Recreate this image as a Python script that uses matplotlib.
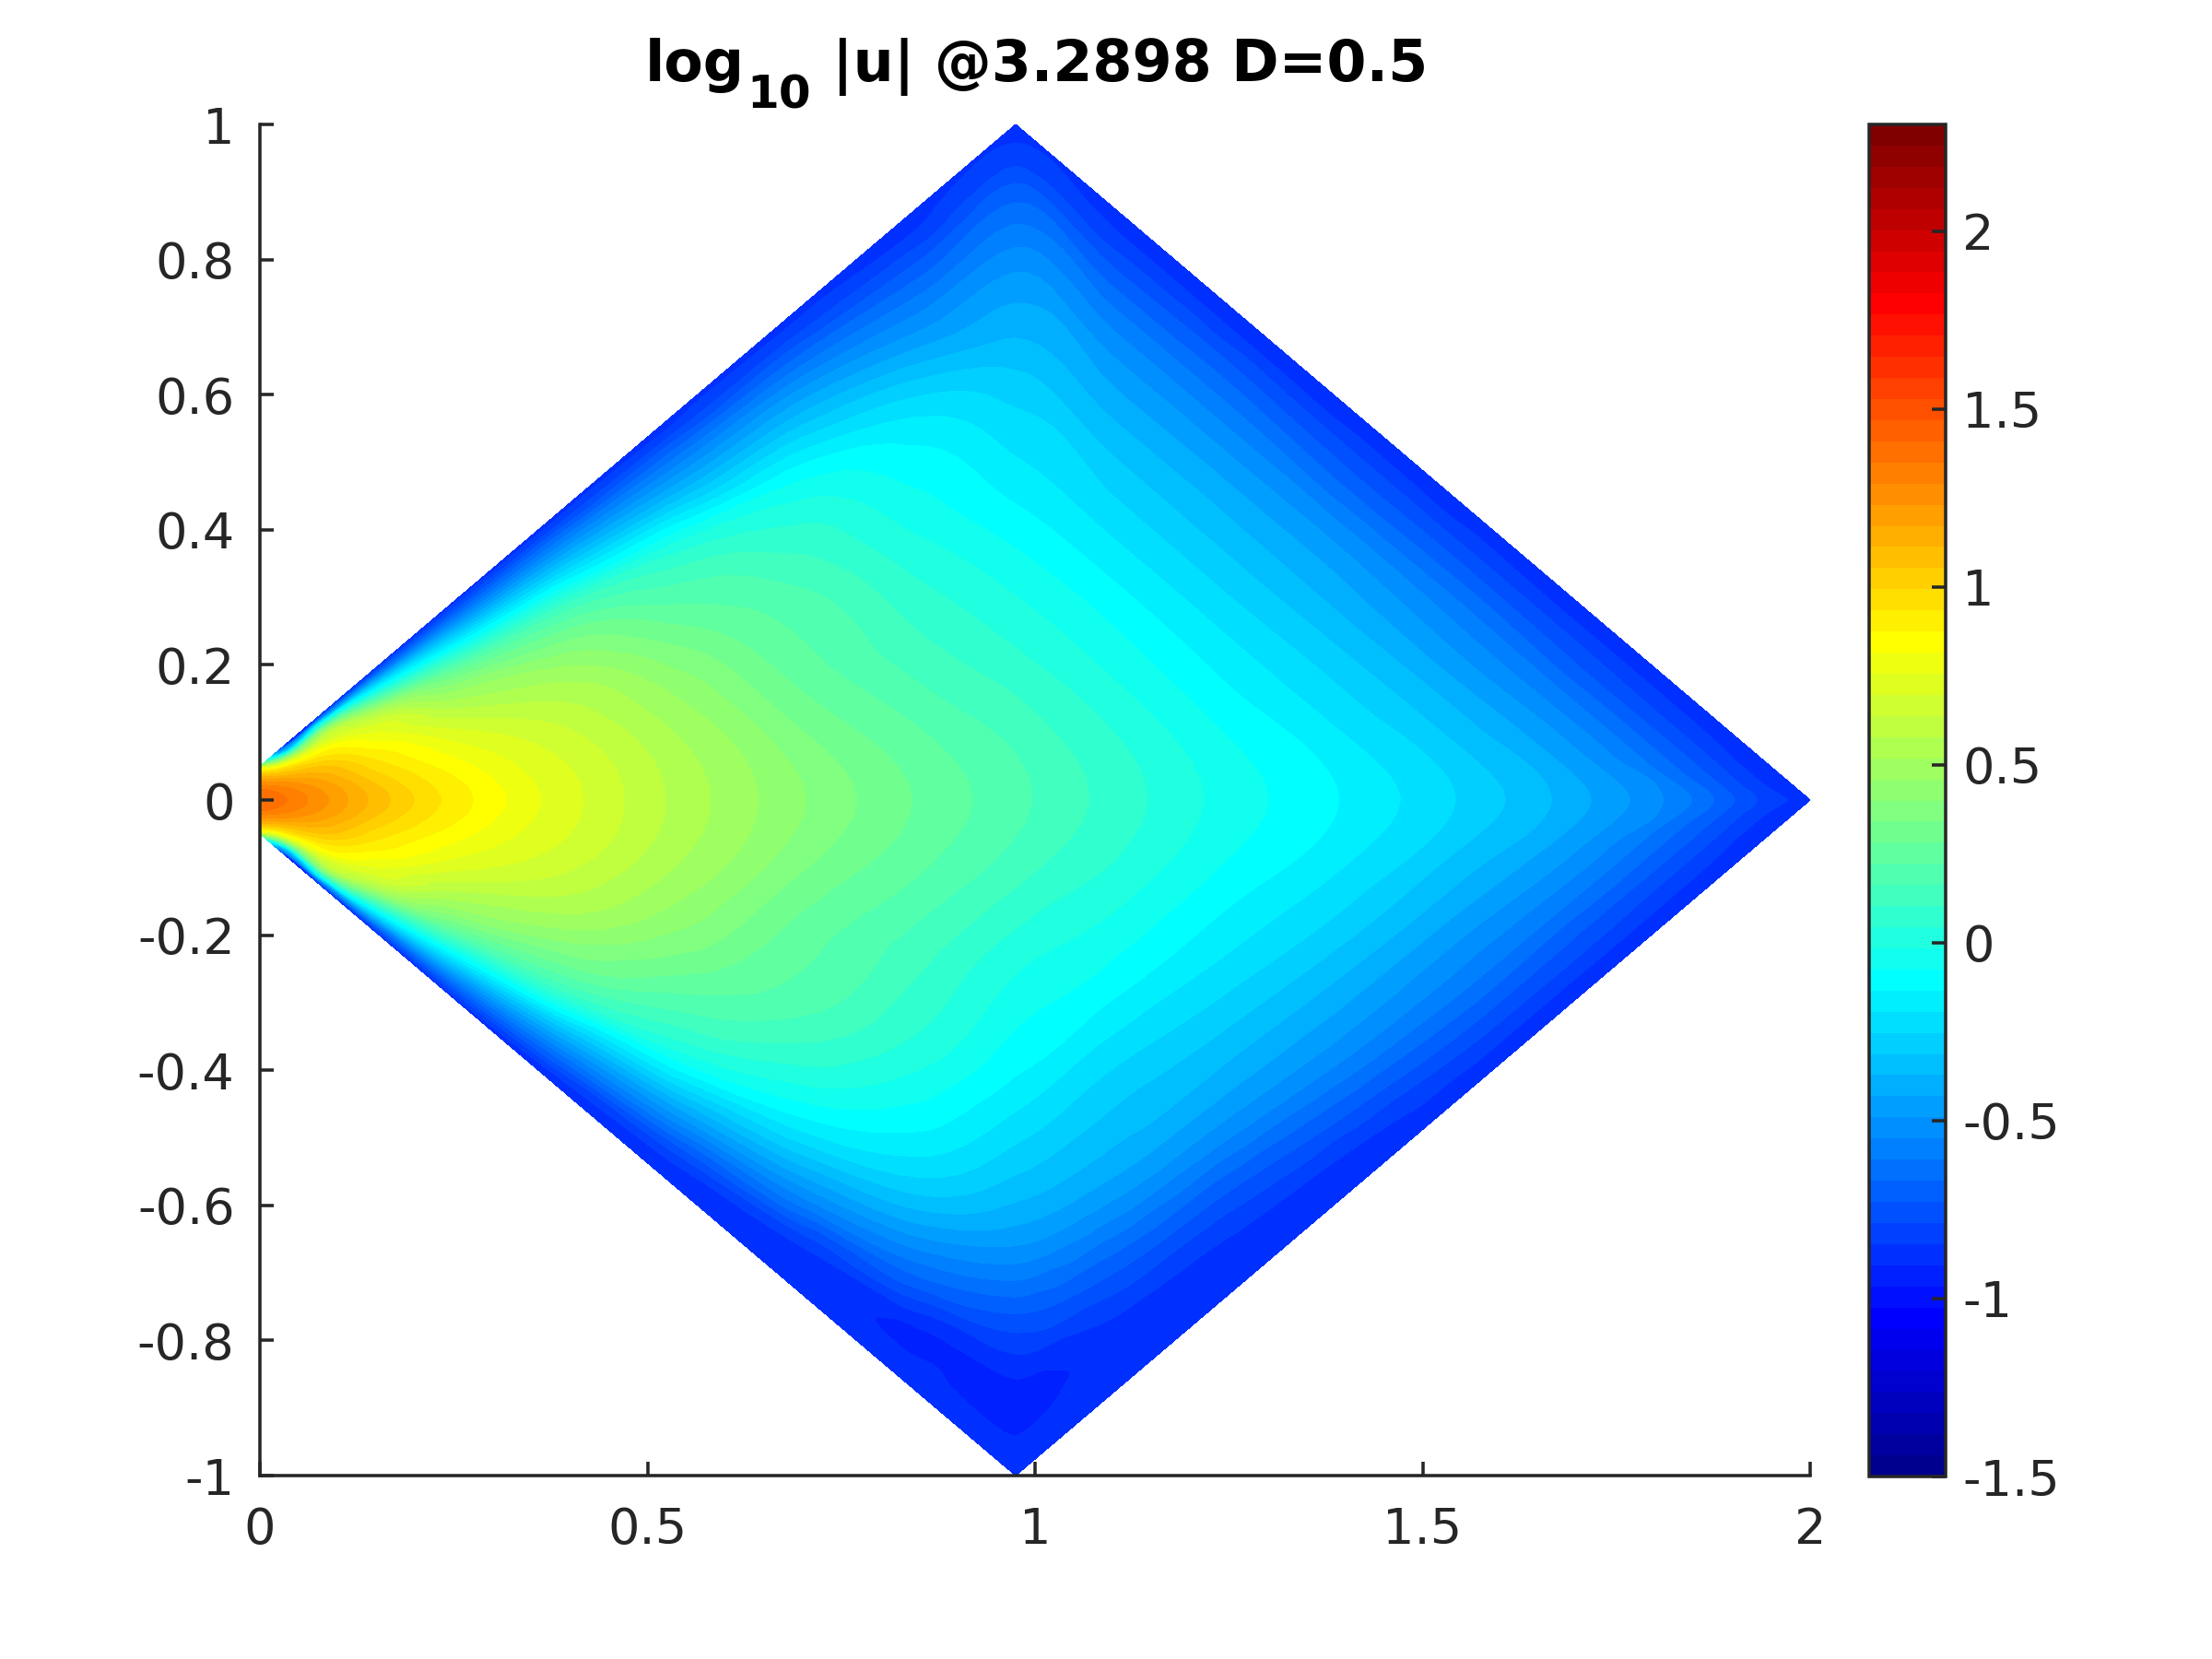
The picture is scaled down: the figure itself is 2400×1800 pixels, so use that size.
#!/usr/bin/env python3
import matplotlib
matplotlib.use("Agg")
import matplotlib.pyplot as plt
import matplotlib.tri as mtri
import numpy as np
from matplotlib.cm import ScalarMappable
from matplotlib.colors import ListedColormap, Normalize

# domain outline
INLET_HALF = 0.05
APEX_X = 0.975
END_X = 2.0

# stations the field was read at; eta is y / local half width
X_STATIONS = [0, 0.03, 0.08, 0.15, 0.25, 0.4, 0.55, 0.7, 0.85, 0.975,
              1.1, 1.25, 1.4, 1.55, 1.7, 1.85, 1.95]
ETA_STATIONS = [-1, -0.96, -0.9, -0.8, -0.65, -0.45, -0.25, 0,
                0.25, 0.45, 0.65, 0.8, 0.9, 0.96, 1]
TIP_VALUE = -0.875

# log10|u|, one row per x station
LOG_U = [
    [0.45, 0.64, 0.84, 0.99, 1.14, 1.28, 1.38, 1.41, 1.38, 1.28, 1.14, 0.99, 0.84, 0.64, 0.45],
    [-0.875, -0.61, -0.36, 0.24, 0.81, 1.12, 1.29, 1.36, 1.29, 1.12, 0.81, 0.24, -0.36, -0.61, -0.875],
    [-0.875, -0.61, -0.135, 0.39, 0.72, 0.99, 1.16, 1.25, 1.16, 0.99, 0.72, 0.39, -0.135, -0.61, -0.875],
    [-0.875, -0.71, -0.4, 0.04, 0.56, 0.81, 0.97, 1.09, 0.97, 0.81, 0.56, 0.04, -0.4, -0.71, -0.875],
    [-0.875, -0.76, -0.56, -0.2, 0.26, 0.59, 0.79, 0.91, 0.79, 0.59, 0.26, -0.2, -0.56, -0.76, -0.875],
    [-0.875, -0.84, -0.68, -0.38, 0.11, 0.44, 0.63, 0.715, 0.63, 0.46, 0.14, -0.31, -0.61, -0.79, -0.875],
    [-0.875, -0.875, -0.76, -0.46, -0.03, 0.27, 0.455, 0.55, 0.455, 0.27, 0.01, -0.4, -0.65, -0.81, -0.875],
    [-0.875, -0.87, -0.84, -0.54, -0.15, 0.15, 0.265, 0.405, 0.26, 0.145, -0.08, -0.41, -0.66, -0.81, -0.875],
    [-0.875, -0.89, -0.92, -0.66, -0.28, -0.01, 0.13, 0.275, 0.125, -0.02, -0.2, -0.51, -0.71, -0.84, -0.875],
    [-0.875, -0.89, -0.94, -0.81, -0.47, -0.18, -0.01, 0.18, 0.025, -0.145, -0.33, -0.52, -0.7, -0.83, -0.875],
    [-0.875, -0.895, -0.875, -0.73, -0.45, -0.25, -0.06, 0.08, -0.045, -0.2, -0.38, -0.56, -0.73, -0.84, -0.875],
    [-0.875, -0.875, -0.86, -0.74, -0.5, -0.305, -0.155, -0.04, -0.145, -0.28, -0.44, -0.61, -0.75, -0.85, -0.875],
    [-0.875, -0.87, -0.85, -0.73, -0.545, -0.38, -0.24, -0.14, -0.24, -0.365, -0.51, -0.68, -0.79, -0.86, -0.875],
    [-0.875, -0.87, -0.83, -0.74, -0.61, -0.48, -0.36, -0.26, -0.35, -0.47, -0.6, -0.73, -0.82, -0.87, -0.875],
    [-0.875, -0.87, -0.85, -0.79, -0.71, -0.59, -0.49, -0.41, -0.49, -0.59, -0.71, -0.79, -0.85, -0.87, -0.875],
    [-0.875, -0.875, -0.87, -0.85, -0.81, -0.75, -0.69, -0.615, -0.69, -0.75, -0.81, -0.85, -0.87, -0.875, -0.875],
    [-0.875, -0.875, -0.875, -0.875, -0.875, -0.86, -0.84, -0.82, -0.84, -0.86, -0.875, -0.875, -0.875, -0.875, -0.875],
]

X_TICKS = [0, 0.5, 1, 1.5, 2]
Y_TICKS = [-1, -0.8, -0.6, -0.4, -0.2, 0, 0.2, 0.4, 0.6, 0.8, 1]
CBAR_TICKS = [-1.5, -1, -0.5, 0, 0.5, 1, 1.5, 2]
CLIM = (-1.5, 2.3)
N_COLORS = 64
INK = "#262626"
TICK_SIZE = 13.0
TITLE_SIZE = 14.85


def matlab_jet(n):
    p = (np.arange(n) + 1.0) / n
    r = np.clip(np.minimum(4 * p - 1.5, -4 * p + 4.5), 0, 1)
    g = np.clip(np.minimum(4 * p - 0.5, -4 * p + 3.5), 0, 1)
    b = np.clip(np.minimum(4 * p + 0.5, -4 * p + 2.5), 0, 1)
    return ListedColormap(np.column_stack([r, g, b]))


def half_width(x):
    rising = INLET_HALF + (1 - INLET_HALF) * x / APEX_X
    falling = (END_X - x) / (END_X - APEX_X)
    return np.where(x <= APEX_X, rising, falling)


def field_triangulation():
    # grid nodes in real (x, y), with one node for the right corner
    xs = np.array(X_STATIONS)
    etas = np.array(ETA_STATIONS)
    nx, ne = len(xs), len(etas)
    node_x = np.repeat(xs, ne)
    node_y = (half_width(xs)[:, None] * etas[None, :]).ravel()
    tip = nx * ne
    node_x = np.append(node_x, END_X)
    node_y = np.append(node_y, 0.0)

    tris = []
    for i in range(nx - 1):
        for j in range(ne - 1):
            a, b = i * ne + j, i * ne + j + 1
            c, d = (i + 1) * ne + j, (i + 1) * ne + j + 1
            # diagonals mirrored about y = 0
            if etas[j] < 0:
                tris += [[a, c, d], [a, d, b]]
            else:
                tris += [[a, c, b], [c, d, b]]
    last = (nx - 1) * ne
    for j in range(ne - 1):
        tris.append([last + j, tip, last + j + 1])
    return mtri.Triangulation(node_x, node_y, triangles=np.array(tris))


def axes_box(left, top, right, bottom):
    # pixel box of the 2400x1800 canvas to a figure fraction rectangle
    return [left / 2400, 1 - bottom / 1800, (right - left) / 2400, (bottom - top) / 1800]


def style_ticks(ax, pad):
    ax.tick_params(direction="in", length=3.7, width=0.85, color=INK,
                   labelcolor=INK, labelsize=TICK_SIZE, pad=pad)


def main():
    fig = plt.figure(figsize=(8, 6), dpi=300)
    ax = fig.add_axes(axes_box(282, 135, 1964, 1601))

    coarse = field_triangulation()
    z = np.append(np.array(LOG_U).ravel(), TIP_VALUE)
    # matplotlib's refiner only rounds the contour lines between the read values
    smooth = mtri.CubicTriInterpolator(coarse, z, kind="geom")
    fine, fine_z = mtri.UniformTriRefiner(coarse).refine_field(z, triinterpolator=smooth, subdiv=3)

    cmap = matlab_jet(N_COLORS)
    norm = Normalize(*CLIM)
    levels = np.linspace(CLIM[0], CLIM[1], N_COLORS + 1)
    ax.tricontourf(fine, fine_z, levels=levels, cmap=cmap, norm=norm, extend="both")

    ax.set_xlim(0, 2)
    ax.set_ylim(-1, 1)
    ax.set_xticks(X_TICKS, [f"{t:g}" for t in X_TICKS])
    ax.set_yticks(Y_TICKS, [f"{t:g}" for t in Y_TICKS])
    style_ticks(ax, 6.6)
    ax.tick_params(axis="x", pad=8)
    ax.spines[["top", "right"]].set_visible(False)
    for side in ("left", "bottom"):
        ax.spines[side].set_linewidth(0.85)
        ax.spines[side].set_color(INK)

    cax = fig.add_axes(axes_box(2028, 135, 2111, 1602))
    cbar = fig.colorbar(ScalarMappable(norm=norm, cmap=cmap), cax=cax)
    cbar.set_ticks(CBAR_TICKS, labels=[f"{t:g}" for t in CBAR_TICKS])
    cbar.minorticks_off()
    style_ticks(cax, 4.4)
    cbar.outline.set_linewidth(0.85)
    cbar.outline.set_edgecolor(INK)

    # title pieces placed by hand to get the big subscript
    for text, px, py, size in [("log", 700, 88, TITLE_SIZE),
                               ("10", 810, 118, 12.0),
                               ("|u| @3.2898 D=0.5", 903, 88, TITLE_SIZE)]:
        fig.text(px / 2400, 1 - py / 1800, text, fontsize=size, fontweight="bold",
                 color="black", ha="left", va="baseline")

    fig.savefig("out.png", dpi=300)


if __name__ == "__main__":
    main()
